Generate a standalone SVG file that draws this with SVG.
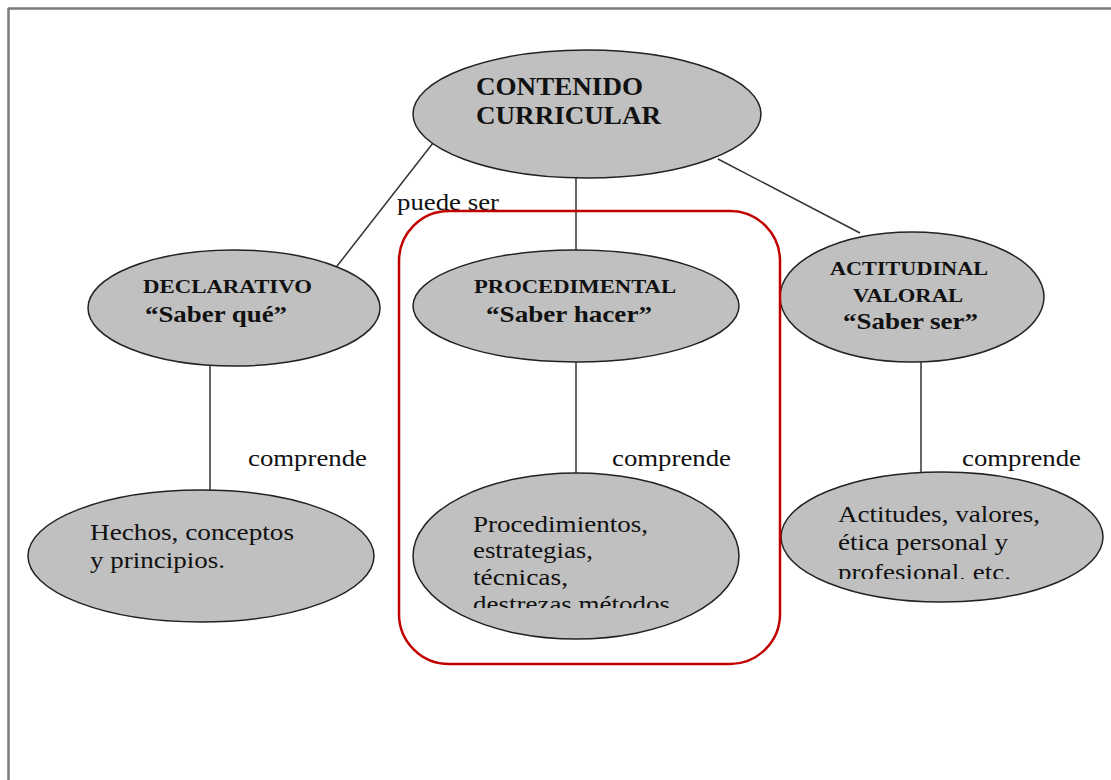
<svg xmlns="http://www.w3.org/2000/svg" width="1111" height="780" viewBox="0 0 1111 780">
<style>
.node{fill:#c0c0c0;stroke:#222;stroke-width:1.5}
.conn line{stroke:#333;stroke-width:1.5}
.t{font-family:"Liberation Serif","Times New Roman",serif;fill:#111}
.b{font-weight:bold}
.r{font-size:24px}
.lb{font-size:24px}
</style>
<defs>
<clipPath id="cp1"><rect x="400" y="470" width="380" height="138"/></clipPath>
<clipPath id="cp2"><rect x="770" y="460" width="341" height="119"/></clipPath>
</defs>
<rect x="0" y="0" width="1111" height="780" fill="#fff"/>
<g id="frame">
<line x1="8" y1="8.5" x2="1111" y2="8.5" stroke="#7a7a7a" stroke-width="2.5"/>
<line x1="8.5" y1="8" x2="8.5" y2="780" stroke="#7a7a7a" stroke-width="2.5"/>
</g>
<g class="conn" id="connectors">
<line x1="433" y1="143" x2="334" y2="270"/>
<line x1="576" y1="178" x2="576" y2="251"/>
<line x1="718" y1="159" x2="860" y2="233"/>
<line x1="210" y1="362" x2="210" y2="491"/>
<line x1="576" y1="362" x2="576" y2="474"/>
<line x1="921" y1="361" x2="921" y2="474"/>
<text class="t lb" x="397" y="210" textLength="102" lengthAdjust="spacingAndGlyphs">puede ser</text>
<text class="t lb" x="248" y="466" textLength="119" lengthAdjust="spacingAndGlyphs">comprende</text>
<text class="t lb" x="612" y="466" textLength="119" lengthAdjust="spacingAndGlyphs">comprende</text>
<text class="t lb" x="962" y="466" textLength="119" lengthAdjust="spacingAndGlyphs">comprende</text>
</g>
<g id="n-contenido">
<ellipse class="node" cx="587" cy="114" rx="174" ry="64"/>
<text class="t b" font-size="26" x="476" y="95" textLength="167" lengthAdjust="spacingAndGlyphs">CONTENIDO</text>
<text class="t b" font-size="26" x="476" y="124" textLength="185" lengthAdjust="spacingAndGlyphs">CURRICULAR</text>
</g>
<g id="n-declarativo">
<ellipse class="node" cx="234" cy="308" rx="146" ry="58"/>
<text class="t b" font-size="19" x="143" y="293" textLength="169" lengthAdjust="spacingAndGlyphs">DECLARATIVO</text>
<text class="t b" font-size="24" x="145" y="322" textLength="142" lengthAdjust="spacingAndGlyphs">“Saber qué”</text>
</g>
<g id="n-procedimental">
<ellipse class="node" cx="576" cy="306" rx="163" ry="56"/>
<text class="t b" font-size="19" x="474" y="293" textLength="202" lengthAdjust="spacingAndGlyphs">PROCEDIMENTAL</text>
<text class="t b" font-size="24" x="486" y="322" textLength="166" lengthAdjust="spacingAndGlyphs">“Saber hacer”</text>
</g>
<g id="n-actitudinal">
<ellipse class="node" cx="912" cy="297" rx="132" ry="65"/>
<text class="t b" font-size="19" x="830" y="275" textLength="158" lengthAdjust="spacingAndGlyphs">ACTITUDINAL</text>
<text class="t b" font-size="19" x="853" y="302" textLength="110" lengthAdjust="spacingAndGlyphs">VALORAL</text>
<text class="t b" font-size="24" x="843" y="329" textLength="135" lengthAdjust="spacingAndGlyphs">“Saber ser”</text>
</g>
<g id="n-hechos">
<ellipse class="node" cx="201" cy="556" rx="173" ry="66"/>
<text class="t r" x="90" y="540" textLength="204" lengthAdjust="spacingAndGlyphs">Hechos, conceptos</text>
<text class="t r" x="90" y="568" textLength="135" lengthAdjust="spacingAndGlyphs">y principios.</text>
</g>
<g id="n-procedimientos">
<ellipse class="node" cx="576" cy="556" rx="163" ry="83"/>
<g clip-path="url(#cp1)">
<text class="t r" x="473" y="532" textLength="175" lengthAdjust="spacingAndGlyphs">Procedimientos,</text>
<text class="t r" x="473" y="558" textLength="120" lengthAdjust="spacingAndGlyphs">estrategias,</text>
<text class="t r" x="473" y="585" textLength="95" lengthAdjust="spacingAndGlyphs">técnicas,</text>
<text class="t r" x="473" y="612" textLength="197" lengthAdjust="spacingAndGlyphs">destrezas métodos</text>
</g>
</g>
<g id="n-actitudes">
<ellipse class="node" cx="942" cy="537" rx="161" ry="65"/>
<g clip-path="url(#cp2)">
<text class="t r" x="838" y="522" textLength="202" lengthAdjust="spacingAndGlyphs">Actitudes, valores,</text>
<text class="t r" x="838" y="550" textLength="170" lengthAdjust="spacingAndGlyphs">ética personal y</text>
<text class="t r" x="838" y="580" textLength="173" lengthAdjust="spacingAndGlyphs">profesional, etc.</text>
</g>
</g>
<g id="highlight">
<rect x="399" y="211" width="381" height="453" rx="50" ry="50" fill="none" stroke="#c00000" stroke-width="2.5"/>
</g>
</svg>
